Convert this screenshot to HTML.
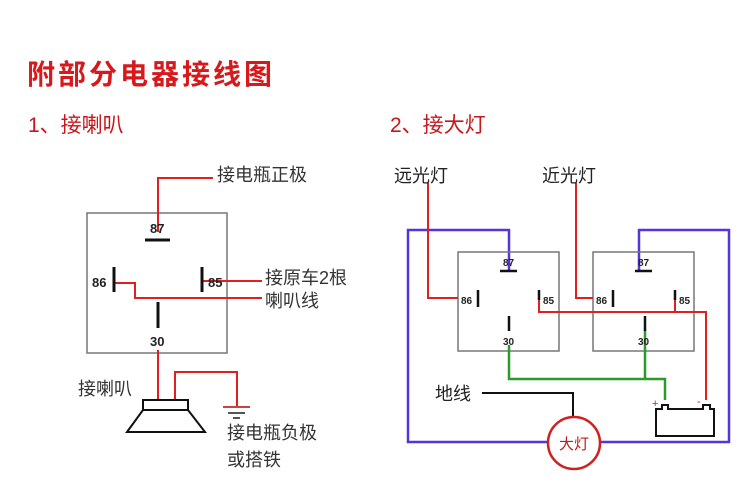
<!DOCTYPE html>
<html><head><meta charset="utf-8"><style>
html,body{margin:0;padding:0;background:#fff;}
svg{display:block;}
text{font-family:"Liberation Sans","Noto Sans CJK SC",sans-serif;}
</style></head><body>
<svg width="756" height="488" viewBox="0 0 756 488" xmlns="http://www.w3.org/2000/svg">
<rect width="756" height="488" fill="#fff"/>
<text x="27" y="84" font-size="28" font-weight="bold" fill="#d7191c" letter-spacing="3" font-family="'Noto Sans CJK SC',sans-serif">附部分电器接线图</text>
<text x="28" y="132" font-size="21" fill="#c8161d">1、接喇叭</text>
<text x="390" y="132" font-size="21" fill="#c8161d">2、接大灯</text>

<!-- left relay -->
<rect x="87" y="213" width="140" height="140" fill="none" stroke="#777" stroke-width="1.5"/>
<g stroke="#e02020" stroke-width="2" fill="none">
<polyline points="158,232 158,178 213,178"/>
<line x1="202" y1="281" x2="262" y2="281"/>
<polyline points="114,283 135,283 135,298 262,298"/>
<line x1="158" y1="350" x2="158" y2="400"/>
<polyline points="175,400 175,372 237,372 237,407"/>
</g>
<g stroke="#111" stroke-width="3">
<line x1="145" y1="240" x2="170" y2="240"/>
<line x1="114" y1="267" x2="114" y2="292"/>
<line x1="202" y1="267" x2="202" y2="292"/>
<line x1="158" y1="302" x2="158" y2="328"/>
</g>
<g font-size="13" font-weight="bold" fill="#222">
<text x="150" y="233">87</text>
<text x="92" y="287">86</text>
<text x="208" y="287">85</text>
<text x="150" y="346">30</text>
</g>
<g stroke-width="2">
<line x1="223" y1="407" x2="250" y2="407" stroke="#d04040"/>
<line x1="228" y1="413" x2="245" y2="413" stroke="#555"/>
<line x1="233" y1="418" x2="240" y2="418" stroke="#555"/>
</g>
<rect x="143" y="400" width="45" height="10" fill="#fff" stroke="#111" stroke-width="2"/>
<polygon points="143,410 188,410 205,432 127,432" fill="#fff" stroke="#111" stroke-width="2"/>
<g font-size="18" fill="#333">
<text x="217" y="181">接电瓶正极</text>
<text x="265" y="284">接原车2根</text>
<text x="265" y="307">喇叭线</text>
<text x="78" y="395">接喇叭</text>
<text x="227" y="439">接电瓶负极</text>
<text x="227" y="466">或搭铁</text>
</g>

<!-- right -->
<g stroke="#5533dd" stroke-width="2.5" fill="none">
<polyline points="509,270 509,230 408,230 408,442 548,442"/>
<polyline points="600,442 729,442 729,230 639,230 639,270"/>
</g>
<rect x="458" y="252" width="101" height="99" fill="none" stroke="#777" stroke-width="1.5"/>
<rect x="593" y="252" width="101" height="99" fill="none" stroke="#777" stroke-width="1.5"/>
<g stroke="#e02020" stroke-width="2" fill="none">
<polyline points="428,183 428,298 458,298"/>
<polyline points="576,183 576,298 593,298"/>
<polyline points="539,300 539,312 706,312 706,400"/>
<line x1="675" y1="300" x2="675" y2="312"/>
</g>
<g stroke="#2a9a2a" stroke-width="2.5" fill="none">
<polyline points="509,345 509,379 665,379 665,400"/>
<line x1="645" y1="330" x2="645" y2="379"/>
</g>
<g stroke="#111" stroke-width="2.5">
<line x1="500" y1="271" x2="517" y2="271"/>
<line x1="635" y1="271" x2="652" y2="271"/>
<line x1="478" y1="290" x2="478" y2="307"/>
<line x1="613" y1="290" x2="613" y2="307"/>
<line x1="539" y1="290" x2="539" y2="300"/>
<line x1="675" y1="290" x2="675" y2="300"/>
<line x1="509" y1="316" x2="509" y2="331"/>
<line x1="645" y1="316" x2="645" y2="331"/>
</g>
<g font-size="10" font-weight="bold" fill="#222">
<text x="503" y="266">87</text>
<text x="638" y="266">87</text>
<text x="461" y="304">86</text>
<text x="596" y="304">86</text>
<text x="543" y="304">85</text>
<text x="679" y="304">85</text>
<text x="503" y="345">30</text>
<text x="638" y="345">30</text>
</g>
<polyline points="482,393 573,393 573,416" fill="none" stroke="#111" stroke-width="2"/>
<circle cx="574" cy="443" r="26" fill="#fff" stroke="#d02020" stroke-width="2.5"/>
<text x="574" y="449" font-size="15" fill="#c01818" text-anchor="middle">大灯</text>
<path d="M656,436 L656,409 L662,409 L662,405 L668,405 L668,409 L703,409 L703,405 L710,405 L710,409 L714,409 L714,436 Z" fill="#fff" stroke="#111" stroke-width="2"/>
<text x="652" y="407" font-size="11" fill="#d02020">+</text>
<text x="697" y="405" font-size="11" fill="#d02020">-</text>
<g font-size="18" fill="#222">
<text x="394" y="182">远光灯</text>
<text x="542" y="182">近光灯</text>
<text x="435" y="400">地线</text>
</g>
</svg>
</body></html>
